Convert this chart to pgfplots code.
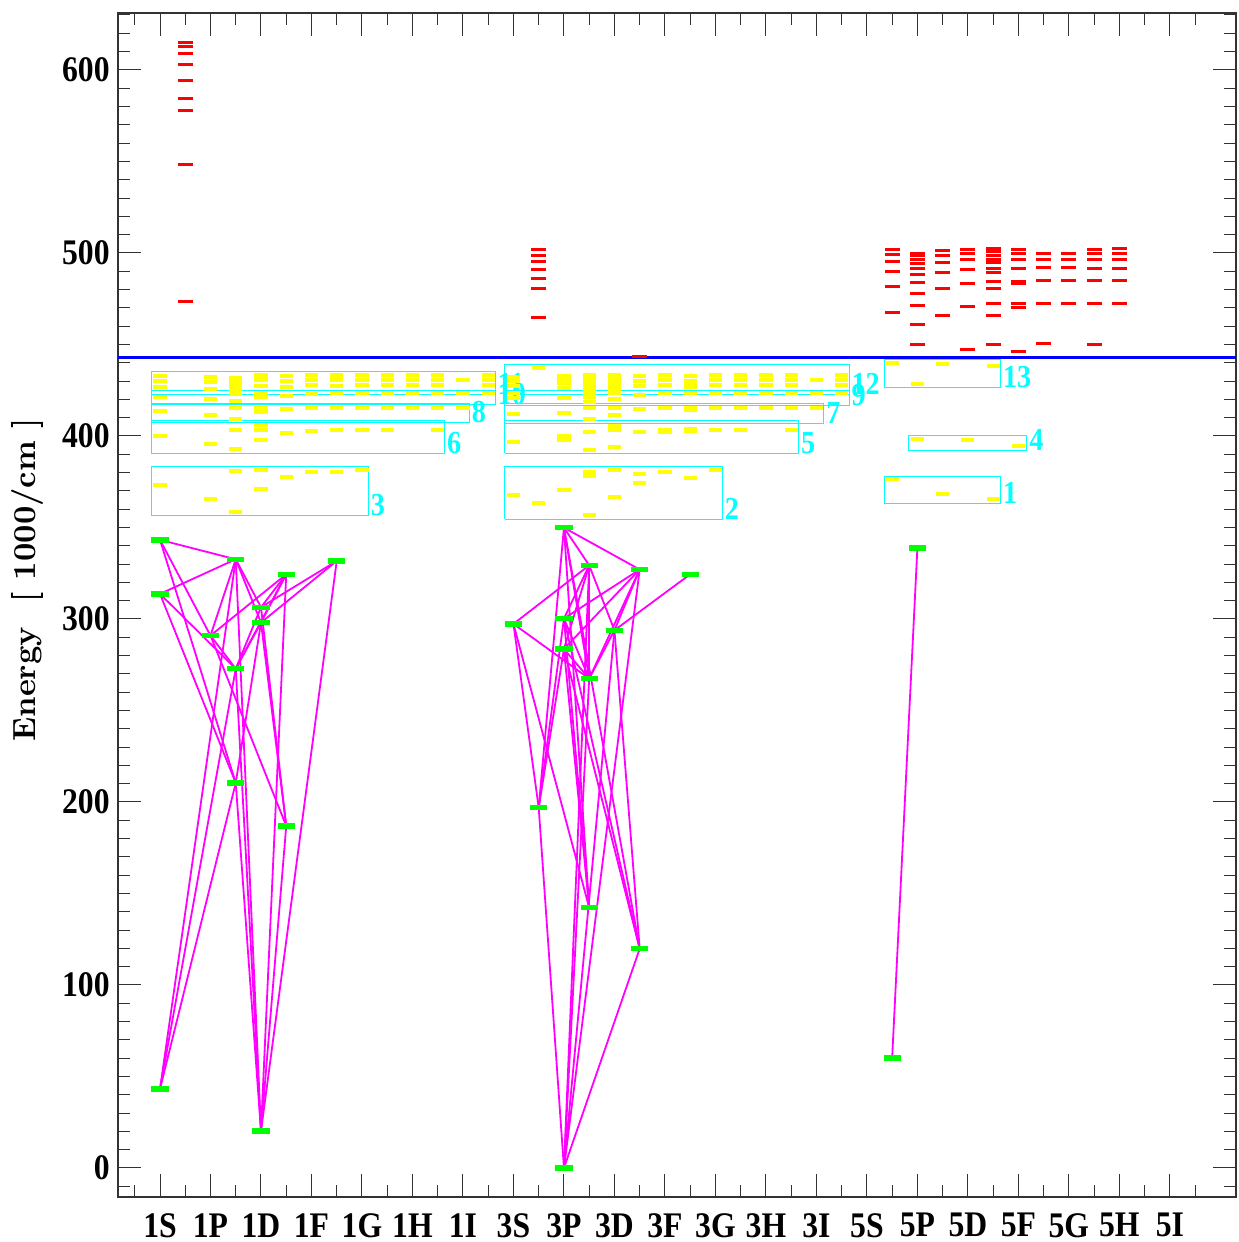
\documentclass[border=0pt]{standalone}
\usepackage{fontspec}
\usepackage{pgfplots}
\pgfplotsset{compat=1.18}
\newfontfamily\tickfont{Liberation Serif}[FakeStretch=0.88]
\newfontfamily\labfont{lmroman10-bold.otf}
\definecolor{lvlred}{RGB}{255,0,0}
\definecolor{lvlyel}{RGB}{255,255,0}
\definecolor{lvlgrn}{RGB}{0,255,0}
\definecolor{boxcy}{RGB}{0,255,255}
\definecolor{trmag}{RGB}{255,0,255}
\definecolor{limblue}{RGB}{0,0,255}
\tikzset{lbl/.style={anchor=base west, inner sep=0pt, xshift=1pt, text=boxcy,
    font=\tickfont\bfseries\fontsize{16}{16}\selectfont}}

\begin{document}
\begin{tikzpicture}
\begin{axis}[
  at={(0,0)}, anchor=south west,
  scale only axis, width=559pt, height=592pt,
  xmin=0.168, xmax=22.31, ymin=-15.85, ymax=631.1,
  xtick={1,...,21},
  xticklabels={1S,1P,1D,1F,1G,1H,1I,3S,3P,3D,3F,3G,3H,3I,5S,5P,5D,5F,5G,5H,5I},
  minor xtick={0.5,1.5,...,21.5},
  ytick={0,100,...,600},
  minor ytick={-10,0,...,630},
  tick pos=both, xticklabel pos=bottom, yticklabel pos=left,
  tick align=inside, major tick length=11.5pt, minor tick length=6pt,
  axis line style={black!80, line width=0.6pt},
  every tick/.style={black!80, line width=0.5pt},
  tick label style={font=\tickfont\bfseries\fontsize{18}{20}\selectfont},
  /pgf/number format/assume math mode=true,
  yticklabel style={inner sep=0pt, xshift=-4pt},
  xticklabel style={inner sep=0pt, yshift=-8pt},
  ylabel={Energy\ \ [ 1000/cm ]},
  ylabel style={at={(axis description cs:-0.0805,0.521)}, anchor=center,
    font=\labfont\fontsize{16}{18}\selectfont},
  tr/.style={trmag, line width=0.9pt, forget plot},
  bx/.style={boxcy, line width=0.5pt, forget plot},
  yl/.style={only marks, mark=-, mark size=3.3pt, lvlyel,
    mark options={line width=2pt}, forget plot},
  rl/.style={only marks, mark=-, mark size=3.7pt, lvlred,
    mark options={line width=1.5pt}, forget plot},
  gl/.style={only marks, mark=-, mark size=4.3pt, lvlgrn,
    mark options={line width=2.7pt}, forget plot},
]

% ---- levels above the limit: autoionising (red)
\addplot[rl] coordinates {
 (1.5,615.1) (1.5,612.7) (1.5,608.7) (1.5,603.1) (1.5,594.2) (1.5,584.2)
 (1.5,578.0) (1.5,548.1) (1.5,473.2)
 (8.5,501.6) (8.5,498.4) (8.5,495.1) (8.5,490.7) (8.5,485.8) (8.5,480.3)
 (8.5,464.5) (10.5,443.6)
 (15.5,501.6) (15.5,498.9) (15.5,495.3) (15.5,489.8) (15.5,481.6) (15.5,467.4)
 (16,499.8) (16,498.4) (16,496.6) (16,494.4) (16,491.7) (16,488.0) (16,483.8)
 (16,478.0) (16,471.1) (16,460.7) (16,450.1)
 (16.5,501.3) (16.5,498.5) (16.5,494.9) (16.5,489.4) (16.5,480.7) (16.5,465.7)
 (17,502.0) (17,499.5) (17,496.2) (17,491.1) (17,483.4) (17,470.7) (17,447.0)
 (17.5,502.5) (17.5,500.5) (17.5,498.5) (17.5,496.5) (17.5,494.5) (17.5,491.6)
 (17.5,489.2) (17.5,484.3) (17.5,480.3) (17.5,472.1) (17.5,465.6) (17.5,449.7)
 (18,502.0) (18,499.5) (18,496.2) (18,491.3) (18,484.3) (18,483.4) (18,472.5)
 (18,470.1) (18,446.1)
 (18.5,499.8) (18.5,496.6) (18.5,492.0) (18.5,484.7) (18.5,472.5) (18.5,450.6)
 (19,499.8) (19,496.6) (19,492.0) (19,484.7) (19,472.5)
 (19.5,502.0) (19.5,499.8) (19.5,496.6) (19.5,491.6) (19.5,484.7) (19.5,472.1)
 (19.5,449.7)
 (20,502.2) (20,499.8) (20,496.6) (20,491.6) (20,484.7) (20,472.5)
};

% ---- ionisation limit
\addplot[limblue, line width=1.5pt, forget plot] coordinates {(0.168,442.8) (22.31,442.8)};

% ---- yellow levels, singlets
\addplot[yl] coordinates {
 (1,432.8) (1,430.2) (1,426.9) (1,421.5) (1,413.7) (1,400.0) (1,373.1)
 (2,432.4) (2,429.5) (2,425.9) (2,420.0) (2,411.3) (2,395.8) (2,365.6)
 (2.5,431.5) (2.5,430.0) (2.5,428.6) (2.5,427.3) (2.5,424.9) (2.5,423.1)
 (2.5,419.0) (2.5,415.3) (2.5,409.1) (2.5,403.3) (2.5,392.7) (2.5,380.9) (2.5,358.5)
 (3,433.3) (3,431.8) (3,430.6) (3,427.3) (3,423.3) (3,421.0) (3,415.5) (3,413.0)
 (3,405.9) (3,403.3) (3,397.8) (3,381.4) (3,370.9)
 (3.5,432.9) (3.5,430.2) (3.5,426.9) (3.5,422.0) (3.5,414.6) (3.5,401.5) (3.5,377.5)
 (4,433.3) (4,430.6) (4,427.7) (4,422.7) (4,415.0) (4,402.9) (4,380.5)
 (4.5,433.3) (4.5,431.5) (4.5,430.6) (4.5,427.5) (4.5,423.3) (4.5,415.3) (4.5,403.3) (4.5,380.5)
 (5,433.3) (5,430.6) (5,427.7) (5,423.3) (5,415.5) (5,403.3) (5,381.4)
 (5.5,433.3) (5.5,430.6) (5.5,427.7) (5.5,423.3) (5.5,415.5) (5.5,403.3)
 (6,433.3) (6,430.6) (6,427.7) (6,423.3) (6,415.5)
 (6.5,433.3) (6.5,430.6) (6.5,427.7) (6.5,423.3) (6.5,415.5) (6.5,403.3)
 (7,430.6) (7,423.3) (7,415.5)
 (7.5,433.3) (7.5,430.6) (7.5,427.7) (7.5,423.3)
};
% ---- yellow levels, triplets
\addplot[yl] coordinates {
 (8,432.4) (8,430.2) (8,427.5) (8,423.3) (8,420.6) (8,411.8) (8,396.7) (8,367.6)
 (8.5,437.0) (8.5,363.2)
 (9,432.8) (9,430.6) (9,428.8) (9,426.0) (9,420.6) (9,412.4) (9,400.2) (9,397.8) (9,370.5)
 (9.5,433.3) (9.5,432.3) (9.5,431.3) (9.5,430.4) (9.5,429.5) (9.5,428.5) (9.5,427.5)
 (9.5,425.1) (9.5,423.3) (9.5,421.5) (9.5,418.7) (9.5,415.1) (9.5,409.1) (9.5,402.4)
 (9.5,392.4) (9.5,380.5) (9.5,378.2) (9.5,356.8)
 (10,433.3) (10,432.0) (10,431.0) (10,429.7) (10,428.5) (10,427.3) (10,426.2)
 (10,425.1) (10,423.3) (10,420.2) (10,415.1) (10,411.5) (10,405.5) (10,403.3)
 (10,394.2) (10,381.4) (10,366.5)
 (10.5,432.8) (10.5,430.2) (10.5,427.3) (10.5,422.4) (10.5,414.7) (10.5,402.4)
 (10.5,379.3) (10.5,374.5)
 (11,433.3) (11,430.6) (11,427.7) (11,423.3) (11,415.3) (11,403.3) (11,402.4) (11,380.5)
 (11.5,432.8) (11.5,430.2) (11.5,427.7) (11.5,426.5) (11.5,423.3) (11.5,415.3)
 (11.5,414.4) (11.5,404.0) (11.5,402.9) (11.5,377.2)
 (12,433.3) (12,430.6) (12,427.7) (12,423.3) (12,415.5) (12,403.3) (12,381.4)
 (12.5,433.3) (12.5,430.6) (12.5,427.7) (12.5,423.3) (12.5,415.5) (12.5,403.3)
 (13,433.3) (13,430.6) (13,427.7) (13,423.3) (13,415.5)
 (13.5,433.3) (13.5,430.6) (13.5,427.7) (13.5,423.3) (13.5,415.5) (13.5,403.3)
 (14,430.6) (14,423.3) (14,415.5)
 (14.5,433.3) (14.5,430.6) (14.5,427.7) (14.5,423.3)
};
% ---- yellow levels, quintets
\addplot[yl] coordinates {
 (15.5,439.7) (15.5,376.2) (16,428.4) (16,398.4) (16.5,439.2) (16.5,368.3)
 (17,398.0) (17.5,438.3) (17.5,365.4) (18,394.7)
};

% ---- configuration boxes
\addplot[bx] coordinates {(0.83,356.3) (5.13,356.3) (5.13,383.2) (0.83,383.2) (0.83,356.3)};
\addplot[bx] coordinates {(0.83,390.5) (6.64,390.5) (6.64,408.3) (0.83,408.3) (0.83,390.5)};
\addplot[bx] coordinates {(0.83,407.3) (7.13,407.3) (7.13,417.9) (0.83,417.9) (0.83,407.3)};
\addplot[bx] coordinates {(0.83,416.9) (7.64,416.9) (7.64,424.8) (0.83,424.8) (0.83,416.9)};
\addplot[bx] coordinates {(0.83,422.4) (7.64,422.4) (7.64,435.1) (0.83,435.1) (0.83,422.4)};
\addplot[bx] coordinates {(7.83,354.5) (12.14,354.5) (12.14,383.2) (7.83,383.2) (7.83,354.5)};
\addplot[bx] coordinates {(7.83,390.4) (13.65,390.4) (13.65,408.3) (7.83,408.3) (7.83,390.4)};
\addplot[bx] coordinates {(7.83,406.6) (14.15,406.6) (14.15,417.9) (7.83,417.9) (7.83,406.6)};
\addplot[bx] coordinates {(7.83,416.4) (14.65,416.4) (14.65,424.8) (7.83,424.8) (7.83,416.4)};
\addplot[bx] coordinates {(7.83,422.4) (14.65,422.4) (14.65,439.2) (7.83,439.2) (7.83,422.4)};
\addplot[bx] coordinates {(15.34,363.2) (17.65,363.2) (17.65,377.7) (15.34,377.7) (15.34,363.2)};
\addplot[bx] coordinates {(15.83,392.0) (18.17,392.0) (18.17,400.2) (15.83,400.2) (15.83,392.0)};
\addplot[bx] coordinates {(15.34,426.2) (17.65,426.2) (17.65,441.9) (15.34,441.9) (15.34,426.2)};

\node[lbl] at (axis cs:5.13,356.3) {3};
\node[lbl] at (axis cs:6.64,390.5) {6};
\node[lbl] at (axis cs:7.13,407.3) {8};
\node[lbl] at (axis cs:7.64,416.9) {10};
\node[lbl] at (axis cs:7.64,422.4) {11};
\node[lbl] at (axis cs:12.14,354.5) {2};
\node[lbl] at (axis cs:13.65,390.4) {5};
\node[lbl] at (axis cs:14.15,406.6) {7};
\node[lbl] at (axis cs:14.65,416.4) {9};
\node[lbl] at (axis cs:14.65,422.4) {12};
\node[lbl] at (axis cs:17.65,363.2) {1};
\node[lbl] at (axis cs:18.17,392.0) {4};
\node[lbl] at (axis cs:17.65,426.2) {13};

% ---- transitions, singlets
\addplot[tr] coordinates {(1,343.2) (2.5,332.6)};
\addplot[tr] coordinates {(1,313.7) (2.5,332.6)};
\addplot[tr] coordinates {(1,343.2) (2,290.9)};
\addplot[tr] coordinates {(1,343.2) (2.5,210.4)};
\addplot[tr] coordinates {(1,313.7) (2.5,272.8)};
\addplot[tr] coordinates {(1,313.7) (2.5,210.4)};
\addplot[tr] coordinates {(2,290.9) (3.5,324.4)};
\addplot[tr] coordinates {(2,290.9) (2.5,272.8)};
\addplot[tr] coordinates {(2,290.9) (3.5,186.9)};
\addplot[tr] coordinates {(2.5,332.6) (2,290.9)};
\addplot[tr] coordinates {(2.5,332.6) (3,306.4)};
\addplot[tr] coordinates {(2.5,332.6) (3,298.0)};
\addplot[tr] coordinates {(2.5,332.6) (3,20.2)};
\addplot[tr] coordinates {(2.5,332.6) (1,43.2)};
\addplot[tr] coordinates {(2.5,272.8) (3,306.4)};
\addplot[tr] coordinates {(2.5,272.8) (3,298.0)};
\addplot[tr] coordinates {(2.5,272.8) (3.5,324.4)};
\addplot[tr] coordinates {(2.5,272.8) (1,43.2)};
\addplot[tr] coordinates {(2.5,272.8) (3,20.2)};
\addplot[tr] coordinates {(2.5,210.4) (1,43.2)};
\addplot[tr] coordinates {(2.5,210.4) (3,20.2)};
\addplot[tr] coordinates {(2.5,210.4) (3,298.0)};
\addplot[tr] coordinates {(3,306.4) (3.5,324.4)};
\addplot[tr] coordinates {(3,298.0) (3.5,324.4)};
\addplot[tr] coordinates {(3,306.4) (4.5,331.7)};
\addplot[tr] coordinates {(3,298.0) (4.5,331.7)};
\addplot[tr] coordinates {(3,306.4) (3.5,186.9)};
\addplot[tr] coordinates {(3,298.0) (3.5,186.9)};
\addplot[tr] coordinates {(3.5,324.4) (3,20.2)};
\addplot[tr] coordinates {(3.5,186.9) (3,20.2)};
\addplot[tr] coordinates {(4.5,331.7) (3,20.2)};

% ---- transitions, triplets
\addplot[tr] coordinates {(9,349.9) (9.5,329.3)};
\addplot[tr] coordinates {(9,349.9) (10.5,327.0)};
\addplot[tr] coordinates {(9,349.9) (8.5,196.9)};
\addplot[tr] coordinates {(9,349.9) (9.5,267.4)};
\addplot[tr] coordinates {(9,349.9) (9.5,142.2)};
\addplot[tr] coordinates {(9,349.9) (10.5,119.8)};
\addplot[tr] coordinates {(9.5,329.3) (8,297.3)};
\addplot[tr] coordinates {(9.5,329.3) (9,300.2)};
\addplot[tr] coordinates {(9.5,329.3) (9,283.6)};
\addplot[tr] coordinates {(9.5,329.3) (10,293.8)};
\addplot[tr] coordinates {(9.5,329.3) (9.5,267.4)};
\addplot[tr] coordinates {(9.5,329.3) (9,0)};
\addplot[tr] coordinates {(10.5,327.0) (9,300.2)};
\addplot[tr] coordinates {(10.5,327.0) (9,283.6)};
\addplot[tr] coordinates {(10.5,327.0) (10,293.8)};
\addplot[tr] coordinates {(10.5,327.0) (9.5,267.4)};
\addplot[tr] coordinates {(10.5,327.0) (9,0)};
\addplot[tr] coordinates {(11.5,324.4) (10,293.8)};
\addplot[tr] coordinates {(8,297.3) (9.5,267.4)};
\addplot[tr] coordinates {(8,297.3) (8.5,196.9)};
\addplot[tr] coordinates {(8,297.3) (9.5,142.2)};
\addplot[tr] coordinates {(9,300.2) (9.5,267.4)};
\addplot[tr] coordinates {(9,283.6) (9.5,267.4)};
\addplot[tr] coordinates {(9,300.2) (8.5,196.9)};
\addplot[tr] coordinates {(9,283.6) (8.5,196.9)};
\addplot[tr] coordinates {(9,300.2) (9.5,142.2)};
\addplot[tr] coordinates {(9,283.6) (9.5,142.2)};
\addplot[tr] coordinates {(9,300.2) (10.5,119.8)};
\addplot[tr] coordinates {(9,283.6) (10.5,119.8)};
\addplot[tr] coordinates {(10,293.8) (9.5,267.4)};
\addplot[tr] coordinates {(10,293.8) (10.5,119.8)};
\addplot[tr] coordinates {(10,293.8) (9,0)};
\addplot[tr] coordinates {(9.5,267.4) (9,0)};
\addplot[tr] coordinates {(8.5,196.9) (9,0)};
\addplot[tr] coordinates {(10.5,119.8) (9,0)};

% ---- transition, quintets
\addplot[tr] coordinates {(15.5,60.1) (16,338.8)};

% ---- observed levels (green)
\addplot[gl] coordinates {
 (1,343.2) (1,313.7) (1,43.2) (2,290.9) (2.5,332.6) (2.5,272.8) (2.5,210.4)
 (3,306.4) (3,298.0) (3,20.2) (3.5,324.4) (3.5,186.9) (4.5,331.7)
 (9,349.9) (9.5,329.3) (10.5,327.0) (11.5,324.4) (8,297.3) (9,300.2) (10,293.8)
 (9,283.6) (9.5,267.4) (8.5,196.9) (9.5,142.2) (10.5,119.8) (9,0)
 (15.5,60.1) (16,338.8)
};
\end{axis}
\pgfresetboundingbox
\path[use as bounding box] (-59pt,-22.5pt) rectangle (560pt,598.5pt);
\end{tikzpicture}
\end{document}
